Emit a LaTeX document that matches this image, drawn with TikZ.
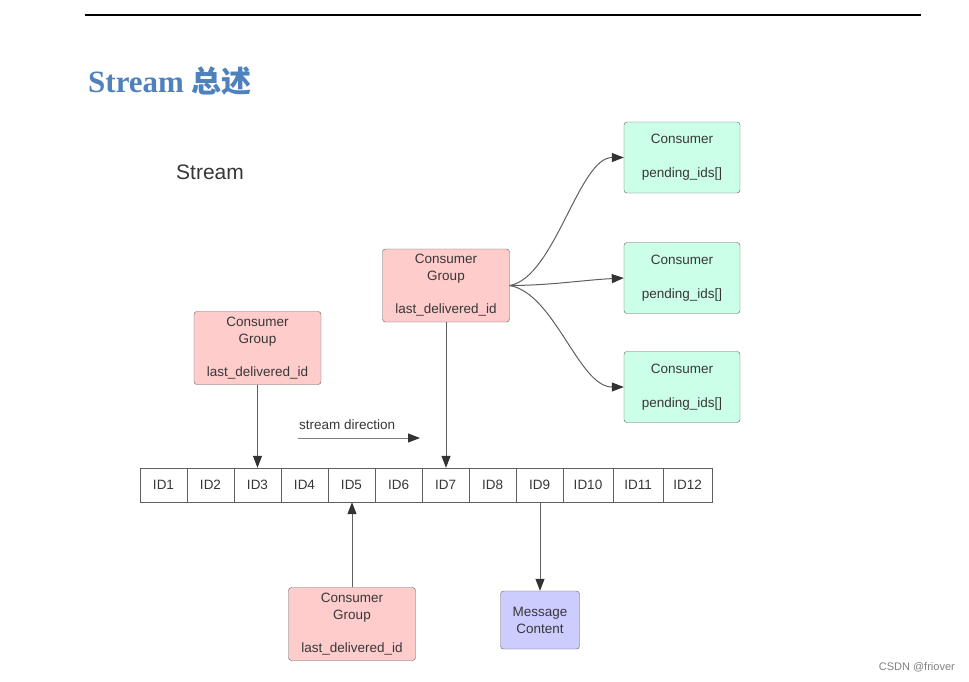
\documentclass[tikz,border=0pt]{standalone}
\usepackage{fontspec}
\setmainfont{Liberation Sans}
\newfontfamily\titleserif{Liberation Serif}
\newfontfamily\cjk{Noto Sans CJK SC}
\usetikzlibrary{arrows.meta,positioning}
\definecolor{titleblue}{RGB}{79, 129, 189}
\definecolor{grouppink}{RGB}{255, 204, 204}
\definecolor{consgreen}{RGB}{204, 255, 232}
\definecolor{msgpurple}{RGB}{204, 204, 255}
\definecolor{edgegray}{RGB}{95, 95, 95}
\definecolor{textgray}{RGB}{55, 55, 55}

\tikzset{
  boxtext/.style={font=\fontsize{13.5}{17}\selectfont, text=textgray, align=center},
  groupbox/.style={boxtext, draw=edgegray, fill=grouppink, rounded corners=3pt,
                   minimum width=127pt, minimum height=73pt, inner sep=0pt},
  consbox/.style={boxtext, draw=edgegray, fill=consgreen, rounded corners=3pt,
                  minimum width=116pt, minimum height=71pt, inner sep=0pt},
  msgbox/.style={boxtext, draw=edgegray, fill=msgpurple, rounded corners=3pt,
                 minimum width=79pt, minimum height=58pt, inner sep=0pt},
  idcell/.style={boxtext, draw=edgegray, fill=white, minimum height=34pt, inner sep=0pt},
  link/.style={draw=edgegray, line width=1pt,
               -{Triangle[length=12pt,width=9pt,color=black!80,fill=black!80]}},
}

\begin{document}
\begin{tikzpicture}[x=1pt, y=-1pt]
    \useasboundingbox (0,0) rectangle (969,681);
    % Page rule & heading
    \draw[line width=2pt] (85,15) -- (921,15);
    \node[anchor=base west, inner sep=0pt, text=titleblue] (title) at (88,92)
         {\fontsize{31}{34}\selectfont\bfseries\titleserif Stream \cjk\fontsize{30}{34}\selectfont 总述};
    \node[anchor=west, inner sep=0pt, text=textgray] (streamlbl) at (176,172)
         {\fontsize{21}{24}\selectfont Stream};
    % Stream entries
    \foreach \i/\l/\r in {1/140/187, 2/187/234, 3/234/281, 4/281/328, 5/328/375, 6/375/422,
                          7/422/469, 8/469/516, 9/516/563, 10/563/613, 11/613/663, 12/663/712}
        \node[idcell, minimum width={(\r-\l)*1pt-0.5pt}] (id\i) at ({(\l+\r)/2},485) {ID\i};
    % Consumer groups
    \node[groupbox] (grpa) at (257.5,348) {Consumer\\Group\\[16pt]last\_delivered\_id};
    \node[groupbox] (grpb) at (446,285.5) {Consumer\\Group\\[16pt]last\_delivered\_id};
    \node[groupbox] (grpc) at (352,624)   {Consumer\\Group\\[16pt]last\_delivered\_id};
    % Consumers
    \node[consbox] (consa) at (682,157.5) {Consumer\\[17pt]pending\_ids[]};
    \node[consbox] (consb) at (682,278)   {Consumer\\[17pt]pending\_ids[]};
    \node[consbox] (consc) at (682,387)   {Consumer\\[17pt]pending\_ids[]};
    % Message
    \node[msgbox] (msg) at (540,620) {Message\\Content};
    % Links
    \draw[link] (grpa.south) -- (grpa.south |- id3.north);
    \draw[link] (grpb.south) -- (grpb.south |- id7.north);
    \draw[link] (grpc.north) -- (grpc.north |- id5.south);
    \draw[link] (msg.north |- id9.south) -- (msg.north);
    \draw[link] (grpb.east) .. controls +(45,-8) and +(-45,0) .. (consa.west);
    \draw[link] (grpb.east) .. controls +(40,0) and +(-40,2) .. (consb.west);
    \draw[link] (grpb.east) .. controls +(45,8) and +(-45,0) .. (consc.west);
    % Direction
    \coordinate (dira) at (298,438);
    \coordinate (dirb) at (420,438);
    \draw[link, draw=gray] (dira) -- (dirb);
    \node[boxtext, anchor=south west, inner sep=0pt] (dirlbl) at (299,430) {stream direction};
    % Watermark
    \node[anchor=east, inner sep=0pt, text=gray] (mark) at (955,667)
         {\fontsize{11}{13}\selectfont CSDN @friover};
\end{tikzpicture}
\end{document}
